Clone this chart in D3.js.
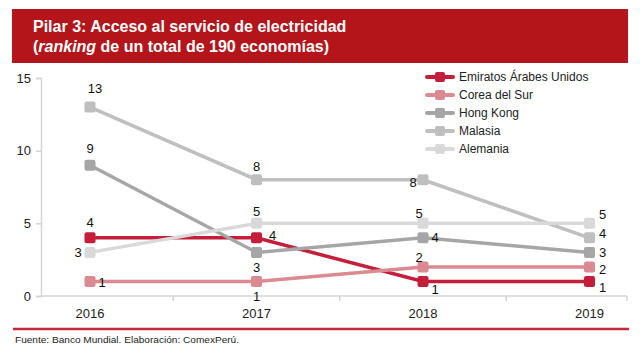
<!DOCTYPE html>
<html><head><meta charset="utf-8">
<script src="https://cdn.jsdelivr.net/npm/d3@7"></script>
<style>
html,body{margin:0;padding:0;background:#fff;}
svg{display:block;font-family:"Liberation Sans",Arial,sans-serif;}
</style></head>
<body>
<svg id="chart" width="642" height="353"></svg>
<script>
// ---- data ----
const years = ["2016", "2017", "2018", "2019"];
const seriesNames = ["Emiratos Árabes Unidos", "Corea del Sur", "Hong Kong", "Malasia", "Alemania"];
const emiratos = [4, 4, 1, 1];
const corea = [1, 1, 2, 2];
const hongKong = [9, 3, 4, 3];
const malasia = [13, 8, 8, 4];
const alemania = [3, 5, 5, 5];
const yTicks = [0, 5, 10, 15];

const titleLine1 = "Pilar 3: Acceso al servicio de electricidad";
const sourceText = "Fuente: Banco Mundial.  Elaboración: ComexPerú.";

// ---- styling / label placement ----
const colors = ["#c41e3a", "#da8a90", "#a6a6a6", "#bfbfbf", "#d9d9d9"];
const labelOffsets = [
  [[0,-15],[16,-2],[12,8],[13,6]],
  [[12,1],[0,15],[-4,-9],[13,3]],
  [[0,-17],[0,15],[12,0],[13,0]],
  [[5,-19],[0,-13],[-10,3],[13,-4]],
  [[-12,0],[0,-12],[-4,-10],[13,-9]]
];

const allSeries = [emiratos, corea, hongKong, malasia, alemania].map((v, i) => ({
  name: seriesNames[i], values: v, color: colors[i], offsets: labelOffsets[i]
}));

const svg = d3.select("#chart");

// title band
svg.append("rect").attr("x", 12).attr("y", 9).attr("width", 616).attr("height", 54).attr("fill", "#b3151b");
svg.append("text").attr("x", 33).attr("y", 32).attr("fill", "#fff")
  .attr("font-size", 16).attr("font-weight", "bold").text(titleLine1);
const t2 = svg.append("text").attr("x", 33).attr("y", 52).attr("fill", "#fff")
  .attr("font-size", 16).attr("font-weight", "bold");
t2.append("tspan").text("(");
t2.append("tspan").attr("font-style", "italic").text("ranking");
t2.append("tspan").text(" de un total de 190 economías)");

// scales
const x = d3.scalePoint().domain(years).range([90, 589.5]);
const y = d3.scaleLinear().domain([0, 15]).range([296, 78]);
const axisColor = "#d4d4d4";
const plotLeft = 41, plotRight = 627;

// y axis
const yAxis = svg.append("g").attr("transform", `translate(${plotLeft},0)`)
  .call(d3.axisLeft(y).tickValues(yTicks).tickSize(5).tickPadding(5));
yAxis.select(".domain").attr("stroke", axisColor).attr("stroke-width", 1.5);
yAxis.selectAll(".tick line").attr("stroke", axisColor).attr("stroke-width", 1.5);
yAxis.selectAll(".tick text").attr("font-size", 13).attr("fill", "#222")
  .attr("font-family", "Liberation Sans, Arial, sans-serif");

// x axis line
svg.append("line").attr("x1", plotLeft).attr("x2", plotRight).attr("y1", y(0)).attr("y2", y(0))
  .attr("stroke", axisColor).attr("stroke-width", 1.5);
const step = x.step();
const boundaries = years.slice(1).map(d => x(d) - step / 2).concat([plotRight]);
svg.selectAll(".xb").data(boundaries).enter().append("line")
  .attr("x1", d => d).attr("x2", d => d).attr("y1", y(0)).attr("y2", y(0) + 5)
  .attr("stroke", axisColor).attr("stroke-width", 1.5);
svg.selectAll(".xl").data(years).enter().append("text")
  .attr("x", d => x(d)).attr("y", 318).attr("text-anchor", "middle")
  .attr("font-size", 13).attr("fill", "#222").text(d => d);

// lines
const line = d3.line().x((d, i) => x(years[i])).y(d => y(d));
const mk = 11;
allSeries.forEach(s => {
  const g = svg.append("g");
  g.append("path").datum(s.values).attr("d", line).attr("fill", "none")
    .attr("stroke", s.color).attr("stroke-width", 3.5);
  g.selectAll("rect").data(s.values).enter().append("rect")
    .attr("x", (d, i) => x(years[i]) - mk / 2).attr("y", d => y(d) - mk / 2)
    .attr("width", mk).attr("height", mk).attr("rx", 2).attr("fill", s.color);
});
// labels
allSeries.forEach(s => {
  svg.append("g").selectAll("text").data(s.values).enter().append("text")
    .attr("x", (d, i) => x(years[i]) + s.offsets[i][0])
    .attr("y", (d, i) => y(d) + s.offsets[i][1])
    .attr("dy", "0.35em").attr("text-anchor", "middle")
    .attr("font-size", 13).attr("fill", "#111").text(d => d);
});

// legend
const lg = svg.append("g");
allSeries.forEach((s, i) => {
  const yy = 77 + i * 18;
  lg.append("line").attr("x1", 427).attr("x2", 453).attr("y1", yy).attr("y2", yy)
    .attr("stroke", s.color).attr("stroke-width", 4).attr("stroke-linecap", "round");
  lg.append("rect").attr("x", 440 - 5).attr("y", yy - 5).attr("width", 10).attr("height", 10)
    .attr("rx", 2).attr("fill", s.color);
  lg.append("text").attr("x", 459).attr("y", yy).attr("dy", "0.35em")
    .attr("font-size", 12).attr("fill", "#222").text(s.name);
});

// footer
svg.append("line").attr("x1", 13).attr("x2", 629).attr("y1", 329).attr("y2", 329)
  .attr("stroke", "#c4283a").attr("stroke-width", 2.5);
svg.append("text").attr("x", 15).attr("y", 343).attr("font-size", 9).attr("fill", "#222")
  .attr("textLength", 224).attr("lengthAdjust", "spacingAndGlyphs").text(sourceText);
</script>
</body></html>
